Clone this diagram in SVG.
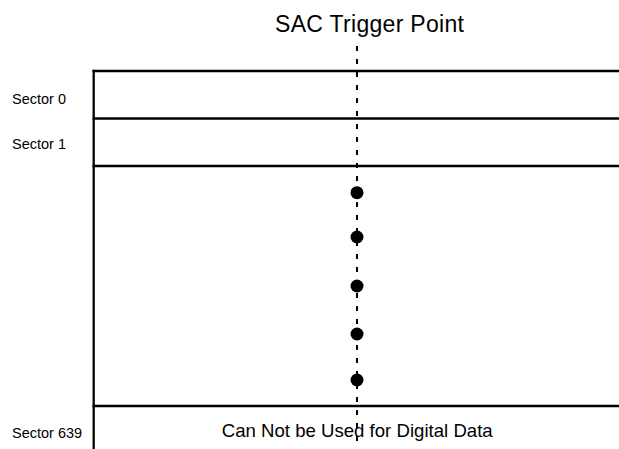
<svg xmlns="http://www.w3.org/2000/svg" width="619" height="449" viewBox="0 0 619 449">
<style>
.ln{stroke:#000;stroke-width:2.3;fill:none}
.dash{stroke:#000;stroke-width:2;stroke-dasharray:5 8;fill:none}
.lbl{font-family:"Liberation Sans",Arial,sans-serif;font-size:14.5px;fill:#000}
.dot{fill:#000}
</style>
<rect width="619" height="449" fill="#fff"/>
<g id="title"><text x="275" y="31.7" textLength="189" lengthAdjust="spacing" font-family="Liberation Sans, Arial, sans-serif" font-size="23">SAC Trigger Point</text></g>
<g id="frame">
<line class="ln" x1="93.7" y1="69.8" x2="93.7" y2="449"/>
<line class="ln" x1="92.6" y1="71" x2="619" y2="71"/>
<line class="ln" x1="92.6" y1="118.5" x2="619" y2="118.5"/>
<line class="ln" x1="92.6" y1="166" x2="619" y2="166"/>
<line class="ln" x1="92.6" y1="406" x2="619" y2="406"/>
</g>
<g id="sector0"><text class="lbl" x="12" y="104">Sector 0</text></g>
<g id="sector1"><text class="lbl" x="12" y="149.3">Sector 1</text></g>
<g id="sector639"><text class="lbl" x="12" y="437.7">Sector 639</text><text x="221.7" y="437.3" textLength="271" lengthAdjust="spacing" font-family="Liberation Sans, Arial, sans-serif" font-size="18.6">Can Not be Used for Digital Data</text></g>
<g id="connectors">
<line class="dash" x1="357" y1="46" x2="357" y2="449"/>
</g>
<g id="dots">
<circle class="dot" cx="357" cy="192.7" r="6.5"/>
<circle class="dot" cx="357" cy="237" r="6.5"/>
<circle class="dot" cx="357" cy="286" r="6.5"/>
<circle class="dot" cx="357" cy="334" r="6.5"/>
<circle class="dot" cx="357" cy="380" r="6.5"/>
</g>
</svg>
